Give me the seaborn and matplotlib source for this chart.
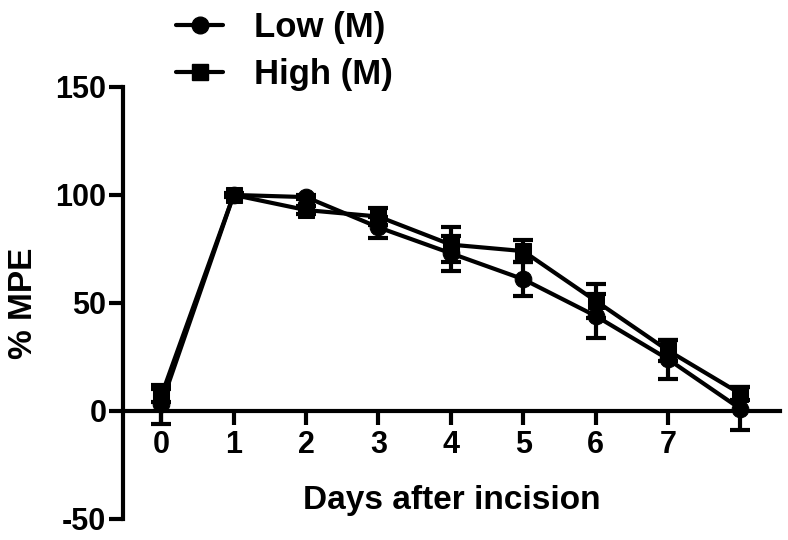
import numpy as np
import pandas as pd
import matplotlib
matplotlib.use('Agg')
import matplotlib.pyplot as plt
import seaborn as sns

# ── data ────────────────────────────────────────────────
days     = [0, 1, 2, 3, 4, 5, 6, 7, 8]
low_mean = [3, 100, 99, 85, 73, 61, 44, 24, 1]
low_err  = [9, 0, 1, 5, 8, 8, 10, 9, 10]
high_mean = [7, 100, 93, 90, 77, 74, 51, 28, 8]
high_err  = [3, 1, 2, 4, 8, 5, 8, 5, 3]
groups   = ['Low (M)', 'High (M)']
xticks   = [0, 1, 2, 3, 4, 5, 6, 7]
yticks   = [-50, 0, 50, 100, 150]

df = pd.concat([
    pd.DataFrame({'day': days, 'mpe': low_mean, 'err': low_err, 'group': groups[0]}),
    pd.DataFrame({'day': days, 'mpe': high_mean, 'err': high_err, 'group': groups[1]}),
], ignore_index=True)

sns.set_style('ticks')
plt.rcParams['font.family'] = ['Liberation Sans', 'DejaVu Sans']
plt.rcParams['font.weight'] = 'bold'
plt.rcParams['axes.unicode_minus'] = False
plt.rcParams['text.color'] = 'black'
plt.rcParams['axes.labelcolor'] = 'black'
plt.rcParams['xtick.color'] = 'black'
plt.rcParams['ytick.color'] = 'black'

fig = plt.figure(figsize=(7.88, 5.4), dpi=100)
ax = fig.add_axes([0.156, 0.039, 0.834, 0.80])

markers = {groups[0]: 'o', groups[1]: 's'}
for g in groups:
    sub = df[df['group'] == g]
    ax.errorbar(sub['day'], sub['mpe'], yerr=sub['err'], fmt='none',
                ecolor='black', elinewidth=3, capsize=7, capthick=3, zorder=2)

sns.lineplot(data=df, x='day', y='mpe', style='group', markers=markers,
             dashes=False, color='black', linewidth=3, markersize=12,
             markeredgecolor='black', ax=ax, legend=False, zorder=3)

ax.set_xlim(-0.53, 8.55)
ax.set_ylim(-50, 150)
ax.set_xticks(xticks)
ax.set_yticks(yticks)
ax.spines['top'].set_visible(False)
ax.spines['right'].set_visible(False)
ax.spines['bottom'].set_position(('data', 0))
ax.spines['left'].set_linewidth(3)
ax.spines['bottom'].set_linewidth(3)
ax.spines['left'].set_color('black')
ax.spines['bottom'].set_color('black')
ax.tick_params(width=3, length=10, labelsize=22, colors='black')
ax.tick_params(axis='y', pad=2)
for lab in ax.get_xticklabels() + ax.get_yticklabels():
    lab.set_fontweight('bold')

ax.set_xlabel('Days after incision', fontsize=24, fontweight='bold', labelpad=18)
ax.set_ylabel('% MPE', fontsize=24, fontweight='bold', labelpad=12)

handles = [plt.Line2D([], [], color='black', lw=3, marker=markers[g], markersize=12)
           for g in groups]
fig.legend(handles, groups, loc='upper left', bbox_to_anchor=(0.184, 1.037),
           frameon=False, prop={'size': 25, 'weight': 'bold'},
           handlelength=1.35, labelspacing=0.4, handletextpad=0.9)

fig.savefig('out.png', dpi=100)
